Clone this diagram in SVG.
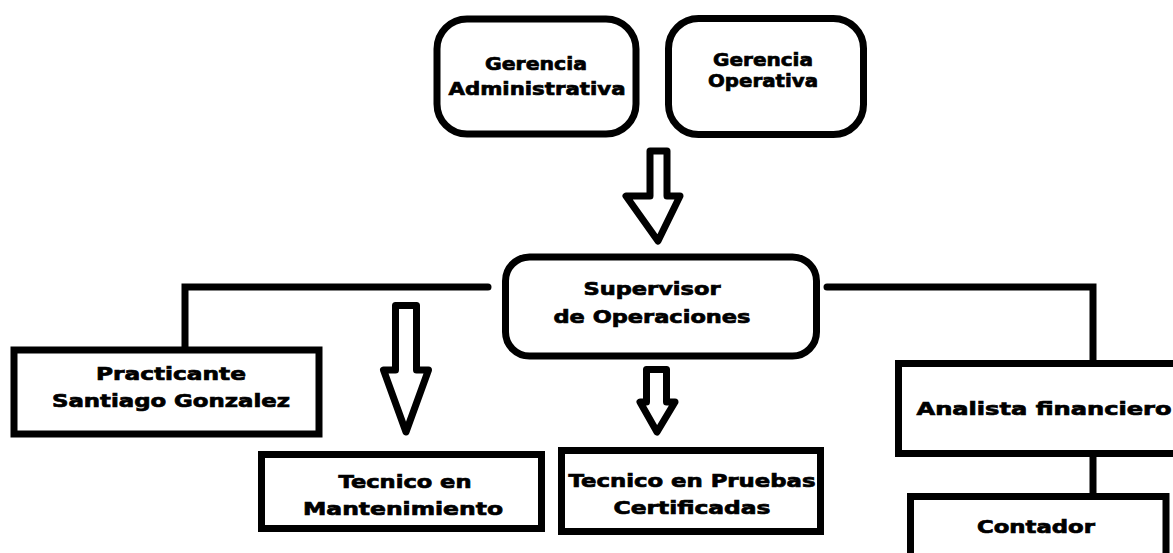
<svg xmlns="http://www.w3.org/2000/svg" width="1173" height="553" viewBox="0 0 1173 553">
<style>
.box{fill:#fff;stroke:#000;stroke-width:7}
.arrow{fill:#fff;stroke:#000;stroke-width:7;stroke-linejoin:round}
.line{fill:none;stroke:#000;stroke-width:7;stroke-linecap:round}
text{font-family:"DejaVu Sans","Liberation Sans",sans-serif;font-weight:bold;font-size:18px;fill:#000;stroke:#000;stroke-width:0.7;text-anchor:middle}
</style>
<rect width="1173" height="553" fill="#fff"/>
<g id="connectors">
<path class="line" d="M488,287 H185 V350"/>
<path class="line" d="M827,287 H1093 V362"/>
<path class="line" d="M1093,454 V495"/>
<path class="arrow" d="M650,151 H667 V196 H680 L658,241 L626,196 H650 Z"/>
<path class="arrow" d="M395.5,305.5 H416.5 V370 H428.5 L406,432 L383.5,370 H395.5 Z"/>
<path class="arrow" d="M646.5,369.5 H666.5 V402 H675 L657,432 L640,402 H646.5 Z"/>
</g>
<g id="gerencia-administrativa">
<rect class="box" x="437" y="19" width="199" height="115" rx="30"/>
<text x="536" y="70" textLength="102" lengthAdjust="spacingAndGlyphs">Gerencia</text>
<text x="537" y="95" textLength="177" lengthAdjust="spacingAndGlyphs">Administrativa</text>
</g>
<g id="gerencia-operativa">
<rect class="box" x="668.5" y="18.5" width="195" height="116" rx="30"/>
<text x="763" y="66" textLength="100" lengthAdjust="spacingAndGlyphs">Gerencia</text>
<text x="763" y="87" textLength="110" lengthAdjust="spacingAndGlyphs">Operativa</text>
</g>
<g id="supervisor">
<rect class="box" x="505.5" y="257" width="311" height="99" rx="24"/>
<text x="652" y="295" textLength="137" lengthAdjust="spacingAndGlyphs">Supervisor</text>
<text x="652" y="323" textLength="197" lengthAdjust="spacingAndGlyphs">de Operaciones</text>
</g>
<g id="practicante">
<rect class="box" x="14" y="350" width="305" height="84"/>
<text x="171" y="380" textLength="150" lengthAdjust="spacingAndGlyphs">Practicante</text>
<text x="171" y="407" textLength="238" lengthAdjust="spacingAndGlyphs">Santiago Gonzalez</text>
</g>
<g id="tecnico-mantenimiento">
<rect class="box" x="261.5" y="454.5" width="280" height="74"/>
<text x="405" y="488" textLength="133" lengthAdjust="spacingAndGlyphs">Tecnico en</text>
<text x="403" y="515" textLength="200" lengthAdjust="spacingAndGlyphs">Mantenimiento</text>
</g>
<g id="tecnico-pruebas">
<rect class="box" x="561.5" y="450.5" width="259" height="81"/>
<text x="692" y="487" textLength="247" lengthAdjust="spacingAndGlyphs">Tecnico en Pruebas</text>
<text x="692" y="514" textLength="157" lengthAdjust="spacingAndGlyphs">Certificadas</text>
</g>
<g id="analista">
<rect class="box" x="898.5" y="363.5" width="285" height="90"/>
<text x="1044" y="415" textLength="255" lengthAdjust="spacingAndGlyphs">Analista financiero</text>
</g>
<g id="contador">
<rect class="box" x="910.5" y="496.5" width="255.5" height="80"/>
<text x="1036" y="533" textLength="118" lengthAdjust="spacingAndGlyphs">Contador</text>
</g>
</svg>
